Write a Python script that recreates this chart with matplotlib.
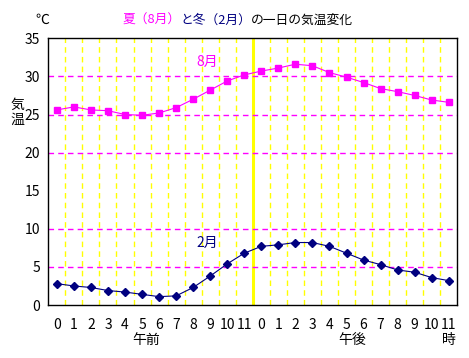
import matplotlib
matplotlib.use("Agg")
import matplotlib.pyplot as plt
import numpy as np

plt.rcParams['font.family'] = ['Noto Sans CJK JP', 'DejaVu Sans']

# hourly temperatures (deg C), 0-11 AM then 0-11 PM
hours = list(range(12)) + list(range(12))
aug = [25.6, 26.0, 25.6, 25.5, 25.0, 24.9, 25.2, 25.9, 27.0, 28.2, 29.4, 30.2,
       30.7, 31.1, 31.6, 31.4, 30.5, 29.9, 29.2, 28.4, 28.0, 27.5, 26.9, 26.6]
feb = [2.8, 2.5, 2.3, 1.9, 1.7, 1.4, 1.1, 1.2, 2.3, 3.8, 5.4, 6.8,
       7.7, 7.9, 8.2, 8.2, 7.7, 6.8, 5.9, 5.3, 4.6, 4.3, 3.6, 3.2]
grid_levels = [5, 10, 20, 25, 30]

magenta = '#ff00ff'
navy = '#000080'

fig = plt.figure(figsize=(4.69, 3.58), dpi=100)
ax = fig.add_axes([0.103, 0.148, 0.872, 0.745])

x = np.arange(len(aug))
ax.set_xlim(-0.5, len(aug) - 0.5)
ax.set_ylim(0, 35)

# vertical hour separators
for b in np.arange(0.5, len(aug) - 0.5, 1.0):
    if b == 11.5:
        ax.axvline(b, color='#ffff00', lw=2.2, zorder=1)
    else:
        ax.axvline(b, color='#ffff00', lw=1, ls=(0, (4, 3)), zorder=1)
for g in grid_levels:
    ax.axhline(g, color=magenta, lw=1, ls=(0, (4, 3)), zorder=1)

ax.plot(x, aug, color=magenta, lw=0.8, marker='s', ms=5, zorder=3)
ax.plot(x, feb, color=navy, lw=0.8, marker='D', ms=4.5, zorder=3)

ax.set_xticks(x)
ax.set_xticklabels([str(h) for h in hours], fontsize=10)
ax.set_yticks(range(0, 36, 5))
ax.tick_params(axis='both', length=0, labelsize=10)
ax.tick_params(axis='x', pad=9)
ax.tick_params(axis='y', pad=6)
for s in ax.spines.values():
    s.set_linewidth(1)

ax.text(8.8, 31.9, '8月', color=magenta, fontsize=10, ha='center', va='center')
ax.text(8.8, 8.1, '2月', color=navy, fontsize=10, ha='center', va='center')

# texts around the axes (figure pixel coordinates)
def ftext(px, py, s, **kw):
    fig.text(px / 469, 1 - py / 358, s, ha='center', va='center', fontsize=10, **kw)

ftext(42, 20, '℃')
ftext(146, 340, '午前')
ftext(352, 340, '午後')
ftext(449, 340, '時')
ftext(17, 105, '気')
ftext(17, 120, '温')

# multicolour title
title_parts = [('夏（8月）', magenta), ('と冬（2月）', navy), ('の一日の気温変化', 'black')]
renderer = fig.canvas.get_renderer()
xpos = 122 / 469
for s, c in title_parts:
    t = fig.text(xpos, 1 - 20 / 358, s, color=c, fontsize=9.2, ha='left', va='center')
    bb = t.get_window_extent(renderer=renderer)
    xpos += bb.width / fig.bbox.width

fig.savefig('out.png', dpi=100)
